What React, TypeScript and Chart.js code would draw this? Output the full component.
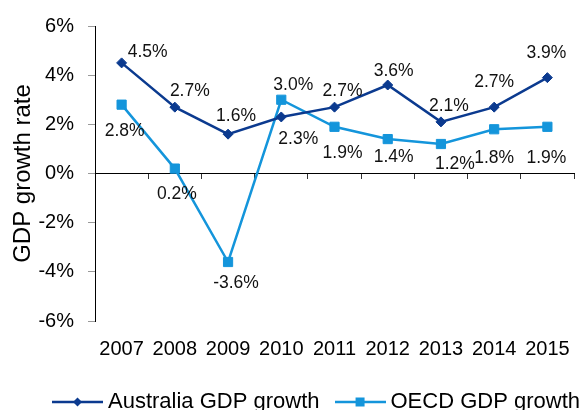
import React, { useEffect, useRef } from "react";
import { Chart, registerables } from "chart.js";

Chart.register(...registerables);

const years = ["2007", "2008", "2009", "2010", "2011", "2012", "2013", "2014", "2015"];
const australiaGrowth = [4.5, 2.7, 1.6, 2.3, 2.7, 3.6, 2.1, 2.7, 3.9];
const oecdGrowth = [2.8, 0.2, -3.6, 3.0, 1.9, 1.4, 1.2, 1.8, 1.9];
const yTickValues = [-6, -4, -2, 0, 2, 4, 6];
const seriesNames = ["Australia GDP growth", "OECD GDP growth"];

const NAVY = "#0B3A8F";
const SKY = "#1495DB";
const FONT = "'Liberation Sans', Arial, Helvetica, sans-serif";

// label offsets (dx, dy) relative to each point
const ausLabelOffsets: [number, number][] = [
  [26, -11], [15, -16], [8, -18], [17, 22], [8, -16], [6, -14], [8, -16], [0, -25], [-1, -24],
];
const oecdLabelOffsets: [number, number][] = [
  [3, 27], [2, 26], [8, 21], [12, -15], [8, 26], [6, 18], [14, 20], [0, 29], [-1, 31],
];

const CANVAS_W = 601;
const CANVAS_H = 423;

function legendIcon(color: string, style: "rectRot" | "rect"): HTMLCanvasElement {
  const c = document.createElement("canvas");
  c.width = 51;
  c.height = 14;
  const g = c.getContext("2d")!;
  g.strokeStyle = color;
  g.lineWidth = 2.5;
  g.beginPath();
  g.moveTo(0, 7);
  g.lineTo(51, 7);
  g.stroke();
  g.fillStyle = color;
  if (style === "rect") {
    g.fillRect(25.5 - 4.5, 7 - 4.5, 9, 9);
  } else {
    g.beginPath();
    g.moveTo(25.5, 7 - 4.5);
    g.lineTo(25.5 + 4.5, 7);
    g.lineTo(25.5, 7 + 4.5);
    g.lineTo(25.5 - 4.5, 7);
    g.closePath();
    g.fill();
  }
  return c;
}

const dataLabelPlugin = {
  id: "dataLabels",
  afterDatasetsDraw(chart: any) {
    const ctx = chart.ctx;
    const offsets = [ausLabelOffsets, oecdLabelOffsets];
    ctx.save();
    ctx.font = `17.5px ${FONT}`;
    ctx.fillStyle = "#111";
    ctx.textAlign = "center";
    ctx.textBaseline = "middle";
    chart.data.datasets.forEach((ds: any, i: number) => {
      const meta = chart.getDatasetMeta(i);
      meta.data.forEach((pt: any, j: number) => {
        const [dx, dy] = offsets[i][j];
        ctx.fillText(`${Number(ds.data[j]).toFixed(1)}%`, pt.x + dx, pt.y + dy);
      });
    });
    ctx.restore();
  },
};

export default function App() {
  const ref = useRef<HTMLCanvasElement>(null);

  useEffect(() => {
    if (!ref.current) return;
    Chart.defaults.font.family = FONT;
    const icons = [legendIcon(NAVY, "rectRot"), legendIcon(SKY, "rect")];
    const chart = new Chart(ref.current, {
      type: "line",
      data: {
        labels: years,
        datasets: [
          {
            label: seriesNames[0],
            data: australiaGrowth,
            borderColor: NAVY,
            backgroundColor: NAVY,
            borderWidth: 2.5,
            pointStyle: "rectRot",
            pointRadius: 5,
            pointBorderWidth: 1,
            tension: 0,
          },
          {
            label: seriesNames[1],
            data: oecdGrowth,
            borderColor: SKY,
            backgroundColor: SKY,
            borderWidth: 2.5,
            pointStyle: "rect",
            pointRadius: 6.5,
            pointBorderWidth: 1,
            tension: 0,
          },
        ],
      },
      options: {
        responsive: false,
        animation: false,
        layout: { padding: { left: 0, right: 0, top: 19, bottom: 0 } },
        scales: {
          x: {
            type: "category",
            offset: true,
            grid: { display: false, drawTicks: false },
            border: { display: false },
            ticks: { color: "#000", font: { size: 20 }, padding: 16, maxRotation: 0, autoSkip: false },
            afterFit: (s: any) => {
              s.height = 49;
            },
          },
          x2: {
            type: "category",
            axis: "x",
            labels: years,
            position: { y: 0 } as any,
            offset: true,
            grid: { offset: true, drawOnChartArea: false, tickLength: 5, color: "#333" },
            border: { display: true, color: "#000", width: 1 },
            ticks: { display: false },
          },
          y: {
            min: -6,
            max: 6,
            afterBuildTicks: (scale: any) => {
              scale.ticks = yTickValues.map((v) => ({ value: v }));
            },
            afterFit: (s: any) => {
              s.width = 95;
            },
            grid: { drawOnChartArea: false, tickLength: 7, tickColor: "#999" },
            border: { display: true, color: "#000", width: 1 },
            ticks: {
              color: "#000",
              font: { size: 20 },
              padding: 14,
              callback: (v: any) => `${v}%`,
            },
            title: {
              display: true,
              text: "GDP growth rate",
              color: "#000",
              font: { size: 24 },
              padding: { top: 9, bottom: 0 },
            },
          },
          yR: {
            type: "linear",
            position: "right",
            grid: { display: false },
            border: { display: false },
            ticks: { display: false },
            afterFit: (s: any) => {
              s.width = 27;
            },
          },
        },
        plugins: {
          legend: {
            position: "bottom",
            align: "end",
            labels: {
              color: "#000",
              font: { size: 22 },
              usePointStyle: true,
              pointStyleWidth: 39,
              padding: 21,
              generateLabels: (ch: any) => {
                const items = Chart.defaults.plugins.legend.labels.generateLabels(ch);
                return items.map((it: any, i: number) => ({ ...it, pointStyle: icons[i] }));
              },
            },
          },
          tooltip: { enabled: false },
        },
      },
      plugins: [dataLabelPlugin],
    });
    return () => chart.destroy();
  }, []);

  return (
    <div style={{ position: "fixed", left: 0, top: 0, width: 583, height: 410, overflow: "hidden", background: "#fff" }}>
      <canvas ref={ref} width={CANVAS_W} height={CANVAS_H} style={{ display: "block", width: CANVAS_W, height: CANVAS_H }} />
    </div>
  );
}
